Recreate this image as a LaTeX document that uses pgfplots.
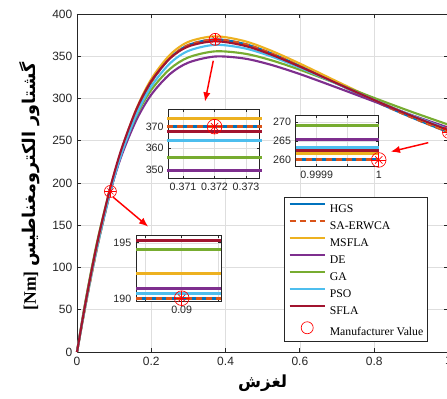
\documentclass[border=0pt]{standalone}
\usepackage{pgfplots}
\usepackage{pgfplotstable}
\pgfplotsset{compat=1.18}
\usetikzlibrary{arrows.meta}
\usepackage{fontspec}
\setmainfont{Liberation Serif}
\newfontfamily\arialfont{Liberation Sans}
\newfontfamily\arabicfont[Script=Arabic]{DejaVu Sans}
\TeXXeTstate=1

\definecolor{c1}{rgb}{0,0.447,0.741}
\definecolor{c2}{rgb}{0.85,0.325,0.098}
\definecolor{c3}{rgb}{0.929,0.694,0.125}
\definecolor{c4}{rgb}{0.494,0.184,0.556}
\definecolor{c5}{rgb}{0.466,0.674,0.188}
\definecolor{c6}{rgb}{0.301,0.745,0.933}
\definecolor{c7}{rgb}{0.635,0.078,0.184}
\definecolor{axgray}{rgb}{0.15,0.15,0.15}
\definecolor{gridgray}{rgb}{0.87,0.87,0.87}

% Main torque-slip curves
\pgfplotstableread{
s     HGS    SA     MSFLA  DE     GA     PSO    SFLA
0     0      0      0      0      0      0      0
0.02  48.44  48.44  49.01  52.10  52.96  49.71  51.00
0.04  93.60  93.60  94.71  98.41  100.10 95.31  97.78
0.06  135.11 135.11 136.71 139.22 141.68 136.63 140.11
0.09  190.06 190.06 192.30 190.95 194.40 190.50 195.20
0.12  236.12 236.12 238.88 232.53 236.80 235.02 240.55
0.16  284.42 284.42 287.67 274.70 279.78 281.17 287.29
0.20  319.40 319.40 322.96 304.59 310.22 314.39 320.61
0.25  347.83 347.83 351.57 328.86 334.88 341.43 347.32
0.30  363.29 363.29 367.03 342.50 348.67 356.37 361.65
0.372 370.00 370.00 373.60 349.70 355.80 363.50 367.70
0.45  364.70 364.70 368.04 347.33 353.16 359.50 362.55
0.52  353.98 353.98 357.07 340.15 345.66 350.23 352.38
0.60  338.52 338.52 341.32 328.90 334.03 336.43 337.71
0.70  317.62 317.62 320.11 312.89 317.55 317.38 317.84
0.80  297.02 297.02 299.25 296.46 300.68 298.31 298.16
0.90  277.71 277.71 279.70 280.52 284.36 280.19 279.61
1.00  260.00 260.00 261.80 265.50 269.00 263.40 262.50
}\torque

% Inset near maximum torque
\pgfplotstableread{
s      HGS    SA     MSFLA  DE     GA     PSO    SFLA
0.3705 370.00 370.00 373.60 349.70 355.80 363.50 367.70
0.3735 370.00 370.00 373.60 349.70 355.80 363.50 367.70
}\peak

% Inset near s = 1 (x in units of (s-1)*1e4)
\pgfplotstableread{
s      HGS    SA     MSFLA  DE     GA     PSO    SFLA
-1.34  260.00 260.00 261.80 265.50 269.00 263.40 262.50
0      260.00 260.00 261.80 265.50 269.00 263.40 262.50
}\start

% Inset near s = 0.09
\pgfplotstableread{
s         HGS    SA     MSFLA  DE     GA     PSO    SFLA
0.0899377 190.06 190.06 192.30 190.95 194.40 190.50 195.20
0.0900535 190.06 190.06 192.30 190.95 194.40 190.50 195.20
}\rated

\pgfplotsset{
  matlab/.style={
    scale only axis, anchor=south west,
    tick align=inside, major tick length=3pt,
    axis line style={axgray, line width=0.6pt},
    tick style={axgray, line width=0.6pt},
    grid=major, major grid style={gridgray, line width=0.5pt},
    /pgf/number format/assume math mode=true,
    scaled ticks=false,
    clip=false,
  },
  ser/.style={line width=1.6pt},
  lineleg/.style={legend image code/.code={\draw[##1] (0pt,2.8pt) -- (26.25pt,2.8pt);}},
  markleg/.style={legend image code/.code={\draw[##1] plot coordinates {(13.1pt,2.8pt)};}},
}

\begin{document}
\begin{tikzpicture}
\useasboundingbox (0,0) rectangle (335.25pt,299.25pt);

\begin{axis}[matlab,
  at={(57.75pt,35.25pt)}, width=278.6pt, height=253.5pt,
  xmin=0, xmax=1, ymin=0, ymax=400,
  xtick={0,0.2,0.4,0.6,0.8,1}, ytick={0,50,100,150,200,250,300,350,400},
  tick label style={font=\arialfont\fontsize{9}{10}\selectfont, text=axgray},
  xlabel={\arabicfont\bfseries\fontsize{12.5}{14}\selectfont\beginR لغزش\endR},
  xlabel style={at={(axis description cs:0.5,-0.092)}, anchor=center},
  ylabel={\bfseries\fontsize{13.2}{15}\selectfont [Nm] {\arabicfont\beginR گشتاور الکترومغناطیس\endR}},
  ylabel style={at={(axis description cs:-0.1265,0.49)}, anchor=center},
  legend style={at={(0.558,0.4577)}, anchor=north west, draw=axgray, fill=white,
    line width=0.6pt,
    font=\fontsize{8.8}{10}\selectfont, row sep=4.75pt, inner xsep=3pt, inner ysep=3.8pt,
    nodes={inner sep=0pt, text height=7pt, text depth=1pt},
    /tikz/every odd column/.append style={column sep=3pt}},
  legend cell align=left,
  lineleg,
]
\addplot[ser, c1, smooth] table[x=s, y=HGS] {\torque};
\addlegendentry{HGS}
\addplot[ser, c2, smooth, dash pattern=on 4.5pt off 3pt] table[x=s, y=SA] {\torque};
\addlegendentry{SA-ERWCA}
\addplot[ser, c3, smooth] table[x=s, y=MSFLA] {\torque};
\addlegendentry{MSFLA}
\addplot[ser, c4, smooth] table[x=s, y=DE] {\torque};
\addlegendentry{DE}
\addplot[ser, c5, smooth] table[x=s, y=GA] {\torque};
\addlegendentry{GA}
\addplot[ser, c6, smooth] table[x=s, y=PSO] {\torque};
\addlegendentry{PSO}
\addplot[ser, c7, smooth] table[x=s, y=SFLA] {\torque};
\addlegendentry{SFLA}
\addplot[only marks, mark=o, red, mark size=4.5pt, mark options={line width=0.5pt}, markleg]
  coordinates {(0.09,190) (0.372,370) (1,260)};
\addlegendentry{Manufacturer Value}
\addplot[only marks, mark=+, red, mark size=4.5pt, mark options={line width=0.5pt}, forget plot]
  coordinates {(0.09,190) (0.372,370) (1,260)};
\addplot[only marks, mark=x, red, mark size=3.2pt, mark options={line width=0.5pt}, forget plot]
  coordinates {(0.09,190) (0.372,370) (1,260)};

\draw[red, line width=1.1pt, -{Latex[length=7pt,width=5.5pt]}] (axis cs:0.0969,183.4) -- (axis cs:0.1919,148.3);
\draw[red, line width=1.1pt, -{Latex[length=7pt,width=5.5pt]}] (axis cs:0.3669,344.7) -- (axis cs:0.3445,296.2);
\draw[red, line width=1.1pt, -{Latex[length=7pt,width=5.5pt]}] (axis cs:0.9456,247.7) -- (axis cs:0.8444,237.0);
\end{axis}

% Inset: maximum torque
\begin{axis}[matlab,
  at={(126.2pt,165.5pt)}, width=68.25pt, height=52pt,
  axis background/.style={fill=white},
  xmin=0.37053, xmax=0.37342, ymin=346, ymax=378.2,
  xtick={0.371,0.372,0.373}, xticklabels={0.371,0.372,0.373},
  ytick={350,360,370}, yticklabels={350,360,370},
  major tick length=2pt,
  tick label style={font=\arialfont\fontsize{8}{9}\selectfont, text=axgray},
]
\addplot[line width=2.2pt, c1] table[x=s, y=HGS] {\peak};
\addplot[line width=2.2pt, c2, dash pattern=on 4.5pt off 3pt] table[x=s, y=SA] {\peak};
\addplot[line width=2.2pt, c3] table[x=s, y=MSFLA] {\peak};
\addplot[line width=2.2pt, c4] table[x=s, y=DE] {\peak};
\addplot[line width=2.2pt, c5] table[x=s, y=GA] {\peak};
\addplot[line width=2.2pt, c6] table[x=s, y=PSO] {\peak};
\addplot[line width=2.2pt, c7] table[x=s, y=SFLA] {\peak};
\addplot[only marks, mark=o, red, mark size=5.5pt, mark options={line width=0.5pt}] coordinates {(0.372,370)};
\addplot[only marks, mark=+, red, mark size=5.5pt, mark options={line width=0.5pt}] coordinates {(0.372,370)};
\addplot[only marks, mark=x, red, mark size=3.9pt, mark options={line width=0.5pt}] coordinates {(0.372,370)};
\end{axis}

% Inset: starting torque (s = 1)
\begin{axis}[matlab,
  at={(221.8pt,174.2pt)}, width=62.25pt, height=38.25pt,
  axis background/.style={fill=white},
  xmin=-1.34, xmax=0, ymin=258.2, ymax=271.7,
  xtick={-1,-0.5,0}, xticklabels={0.9999,,1},
  ytick={260,265,270}, yticklabels={260,265,270},
  major tick length=2pt,
  tick label style={font=\arialfont\fontsize{8}{9}\selectfont, text=axgray},
]
\addplot[line width=2.2pt, c1] table[x=s, y=HGS] {\start};
\addplot[line width=2.2pt, c2, dash pattern=on 4.5pt off 3pt] table[x=s, y=SA] {\start};
\addplot[line width=2.2pt, c3] table[x=s, y=MSFLA] {\start};
\addplot[line width=2.2pt, c4] table[x=s, y=DE] {\start};
\addplot[line width=2.2pt, c5] table[x=s, y=GA] {\start};
\addplot[line width=2.2pt, c6] table[x=s, y=PSO] {\start};
\addplot[line width=2.2pt, c7] table[x=s, y=SFLA] {\start};
\addplot[only marks, mark=o, red, mark size=5.5pt, mark options={line width=0.5pt}] coordinates {(0,260)};
\addplot[only marks, mark=+, red, mark size=5.5pt, mark options={line width=0.5pt}] coordinates {(0,260)};
\addplot[only marks, mark=x, red, mark size=3.9pt, mark options={line width=0.5pt}] coordinates {(0,260)};
\end{axis}

% Inset: rated torque (s = 0.09)
\begin{axis}[matlab,
  at={(102pt,73pt)}, width=63.75pt, height=50pt,
  axis background/.style={fill=white},
  xmin=0.0899377, xmax=0.0900535, ymin=189.75, ymax=195.7,
  xtick={0.08995,0.09,0.09005}, xticklabels={,0.09,},
  ytick={190,195}, yticklabels={190,195},
  major tick length=2pt,
  tick label style={font=\arialfont\fontsize{8}{9}\selectfont, text=axgray},
]
\addplot[line width=2.2pt, c1] table[x=s, y=HGS] {\rated};
\addplot[line width=2.2pt, c2, dash pattern=on 4.5pt off 3pt] table[x=s, y=SA] {\rated};
\addplot[line width=2.2pt, c3] table[x=s, y=MSFLA] {\rated};
\addplot[line width=2.2pt, c4] table[x=s, y=DE] {\rated};
\addplot[line width=2.2pt, c5] table[x=s, y=GA] {\rated};
\addplot[line width=2.2pt, c6] table[x=s, y=PSO] {\rated};
\addplot[line width=2.2pt, c7] table[x=s, y=SFLA] {\rated};
\addplot[only marks, mark=o, red, mark size=5.5pt, mark options={line width=0.5pt}] coordinates {(0.09,190.06)};
\addplot[only marks, mark=+, red, mark size=5.5pt, mark options={line width=0.5pt}] coordinates {(0.09,190.06)};
\addplot[only marks, mark=x, red, mark size=3.9pt, mark options={line width=0.5pt}] coordinates {(0.09,190.06)};
\end{axis}
\end{tikzpicture}
\end{document}
